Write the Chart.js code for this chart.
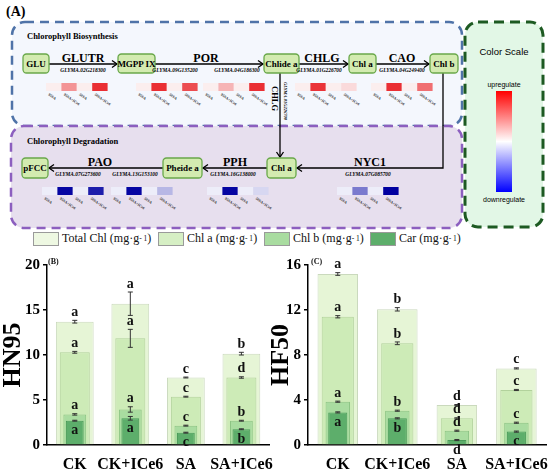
<!DOCTYPE html>
<html>
<head>
<meta charset="utf-8">
<script src="https://cdn.jsdelivr.net/npm/chart.js@4.4.0/dist/chart.umd.min.js"></script>
<style>
  body { margin: 0; background: #fff; }
  #wrap { position: relative; width: 550px; height: 469px; overflow: hidden; font-family: "Liberation Serif", serif; }
  #diagram { position: absolute; left: 0; top: 0; }
  .legend { position: absolute; top: 231px; left: 0; width: 550px; height: 16px; font-size: 12px; color: #111; }
  .legend .it { position: absolute; top: 0; display: flex; align-items: center; white-space: nowrap; }
  .legend .sw { width: 26px; height: 14px; border: 1px solid #9a9a9a; box-sizing: border-box; margin-right: 3px; }
  .legend sup { font-size: 7.5px; vertical-align: 5px; }
  .box { position: absolute; top: 248px; }
  .tag { position: absolute; font-weight: bold; font-size: 8px; color: #111; }
</style>
</head>
<body>
<div id="wrap">
  <svg id="diagram" width="550" height="232"></svg>
  <div class="legend">
    <div class="it" style="left:33px"><div class="sw" style="background:#eef8e2"></div>Total Chl (mg·g<sup> - 1</sup>)</div>
    <div class="it" style="left:158px"><div class="sw" style="background:#d6efc4"></div>Chl a (mg·g<sup> - 1</sup>)</div>
    <div class="it" style="left:264px"><div class="sw" style="background:#a9dca0"></div>Chl b (mg·g<sup> - 1</sup>)</div>
    <div class="it" style="left:370px"><div class="sw" style="background:#5dae6b"></div>Car (mg·g<sup> - 1</sup>)</div>
  </div>
  <div class="box" style="left:0"><canvas id="chartB" width="275" height="221"></canvas></div>
  <div class="box" style="left:268px"><canvas id="chartC" width="282" height="221"></canvas></div>
  <div class="tag" style="left:48px;top:257px">(B)</div>
  <div class="tag" style="left:311px;top:257px">(C)</div>
</div>
<script>
// ---- data ----
const categories = ['CK', 'CK+ICe6', 'SA', 'SA+ICe6'];
const heatLabels = ['95SA', '95SA+ICe6', '50SA', '50SA+ICe6'];

// relative expression (red = up, blue = down)
const glutr02G218300 = [0.03, 0.45, 0.03, 0.92];
const por09G135200 = [0.03, 0.92, 0.03, 0.78];
const por04G186300 = [0.03, 0.3, 0.03, 0.92];
const chlg01G226700 = [0.03, 0.9, 0.03, 0.12];
const cao04G249400 = [0.03, 0.92, 0.03, 0.62];
const pao07G273600 = [-0.03, -0.98, -0.03, -0.88];
const pao13G153100 = [-0.03, -0.98, -0.03, -0.25];
const pph16G138000 = [-0.03, -0.98, -0.03, -0.12];
const nyc07G085700 = [-0.03, -0.5, -0.03, -1];

// HN95
const hn95Total = [13.7, 15.7, 7.5, 10.15];
const hn95ChlA = [10.3, 11.85, 5.37, 7.5];
const hn95ChlB = [3.4, 3.95, 2.15, 2.7];
const hn95Car = [2.7, 2.97, 1.37, 1.75];
const hn95TotalErr = [0.15, 1.3, 0.05, 0.15];
const hn95ChlAErr = [0.1, 1.0, 0.05, 0.08];
const hn95ChlBErr = [0.08, 0.3, 0.05, 0.05];
const hn95CarErr = [0.05, 0.2, 0.05, 0.05];
const hn95Letters = [['a', 'a', 'c', 'b'], ['a', 'a', 'c', 'd'], ['a', 'a', 'c', 'b'], ['a', 'a', 'c', 'b']];

// HF50
const hf50Total = [15.2, 12.06, 3.55, 6.81];
const hf50ChlA = [11.4, 9.04, 2.37, 4.89];
const hf50ChlB = [3.85, 3.05, 1.27, 1.98];
const hf50Car = [2.9, 2.37, 0.44, 1.19];
const hf50TotalErr = [0.12, 0.15, 0.05, 0.05];
const hf50ChlAErr = [0.1, 0.12, 0.05, 0.05];
const hf50ChlBErr = [0.05, 0.05, 0.05, 0.05];
const hf50CarErr = [0.05, 0.05, 0.05, 0.05];
const hf50Letters = [['a', 'b', 'd', 'c'], ['a', 'b', 'd', 'c'], ['a', 'b', 'd', 'c'], ['a', 'b', 'd', 'c']];

// ---- pathway diagram (A) ----
const SERIF = '"Liberation Serif", serif';
let s = '';
s += `<text x="6" y="16" font-family='${SERIF}' font-weight="bold" font-size="14">(A)</text>`;
// panels
s += `<rect x="12" y="22" width="450" height="104" rx="13" fill="#f4f7fd" stroke="#4f73a8" stroke-width="2.5" stroke-dasharray="9 6"/>`;
s += `<rect x="11" y="126" width="451" height="102" rx="13" fill="#e7dfee" stroke="#8c5fbf" stroke-width="2.5" stroke-dasharray="9 6"/>`;
s += `<rect x="465" y="22" width="78" height="205" rx="13" fill="#e2f7e6" stroke="#1d5a22" stroke-width="3" stroke-dasharray="10 6"/>`;
s += `<text x="27" y="39" font-family='${SERIF}' font-weight="bold" font-size="8.5">Chlorophyll Biosynthesis</text>`;
s += `<text x="27" y="144" font-family='${SERIF}' font-weight="bold" font-size="8.5">Chlorophyll Degradation</text>`;

// color scale
s += `<defs><linearGradient id="cs" x1="0" y1="0" x2="0" y2="1"><stop offset="0" stop-color="#ff0000"/><stop offset="0.5" stop-color="#ffffff"/><stop offset="1" stop-color="#0000ff"/></linearGradient></defs>`;
s += `<text x="504" y="55" text-anchor="middle" font-family="Liberation Sans, sans-serif" font-size="9.5">Color Scale</text>`;
s += `<text x="504" y="87" text-anchor="middle" font-family="Liberation Sans, sans-serif" font-size="7">upregulate</text>`;
s += `<rect x="496" y="91" width="16" height="101" fill="url(#cs)"/>`;
s += `<text x="504" y="202" text-anchor="middle" font-family="Liberation Sans, sans-serif" font-size="7">downregulate</text>`;

// arrows
function arrow(pts, dir) {
  let d = 'M' + pts.map(p => p.join(',')).join(' L');
  s += `<path d="${d}" fill="none" stroke="#000" stroke-width="1.3"/>`;
  const [x, y] = pts[pts.length - 1];
  let h;
  if (dir === 'r') h = `M${x - 5},${y - 3.5} L${x},${y} L${x - 5},${y + 3.5}`;
  if (dir === 'l') h = `M${x + 5},${y - 3.5} L${x},${y} L${x + 5},${y + 3.5}`;
  if (dir === 'd') h = `M${x - 3.5},${y - 5} L${x},${y} L${x + 3.5},${y - 5}`;
  s += `<path d="${h}" fill="none" stroke="#000" stroke-width="1.3"/>`;
}
arrow([[49, 64], [117, 64]], 'r');
arrow([[155, 64], [263, 64]], 'r');
arrow([[299, 64], [348, 64]], 'r');
arrow([[376, 64], [429, 64]], 'r');
arrow([[280, 73], [280, 157]], 'd');
arrow([[443, 73], [443, 168], [297, 168]], 'l');
arrow([[267, 168], [203, 168]], 'l');
arrow([[163, 168], [49, 168]], 'l');

// nodes
function node(x1, x2, y1, y2, label) {
  s += `<rect x="${x1}" y="${y1}" width="${x2 - x1}" height="${y2 - y1}" rx="3.5" fill="#d3ebb0" stroke="#69a84a" stroke-width="1.3"/>`;
  s += `<text x="${(x1 + x2) / 2}" y="${(y1 + y2) / 2 + 3}" text-anchor="middle" font-family='${SERIF}' font-weight="bold" font-size="9">${label}</text>`;
}
node(23, 49, 54, 73, 'GLU');
node(118, 155, 54, 73, 'MGPP IX');
node(264, 299, 54, 73, 'Chlide a');
node(349, 376, 54, 73, 'Chl a');
node(430, 458, 54, 73, 'Chl b');
node(267, 296, 158, 178, 'Chl a');
node(163, 202, 158, 178, 'Pheide a');
node(22, 48, 158, 178, 'pFCC');

// enzyme and gene labels
function enzyme(x, y, t) {
  s += `<text x="${x}" y="${y}" text-anchor="middle" font-family='${SERIF}' font-weight="bold" font-size="12">${t}</text>`;
}
function gene(x, y, t) {
  s += `<text x="${x}" y="${y}" text-anchor="middle" font-family='${SERIF}' font-weight="bold" font-style="italic" font-size="5.4">${t}</text>`;
}
enzyme(83, 62, 'GLUTR'); gene(83, 72, 'GLYMA.02G218300');
enzyme(206, 62, 'POR'); gene(175, 72, 'GLYMA.09G135200'); gene(237, 72, 'GLYMA.04G186300');
enzyme(322, 62, 'CHLG'); gene(319, 72, 'GLYMA.01G226700');
enzyme(402, 62, 'CAO'); gene(402, 72, 'GLYMA.04G249400');
enzyme(100, 166, 'PAO'); gene(78, 176, 'GLYMA.07G273600'); gene(135, 176, 'GLYMA.13G153100');
enzyme(235, 166, 'PPH'); gene(233, 176, 'GLYMA.16G138000');
enzyme(370, 166, 'NYC1'); gene(368, 176, 'GLYMA.07G085700');
s += `<text transform="translate(272,86) rotate(90)" font-family='${SERIF}' font-weight="bold" font-size="8.5">CHLG</text>`;
s += `<text transform="translate(284,82) rotate(90)" font-family='${SERIF}' font-weight="bold" font-style="italic" font-size="4.5">GLYMA.01G226700</text>`;

// heatmaps
function heatColor(v) {
  const a = Math.abs(v);
  const from = v >= 0 ? [252, 244, 244] : [244, 244, 252];
  const to = v >= 0 ? [232, 30, 35] : [0, 0, 160];
  const c = from.map((f, k) => Math.round(f + (to[k] - f) * a));
  return `rgb(${c.join(',')})`;
}
const heatRows = [
  [glutr02G218300, 46, 83], [por09G135200, 136, 83], [por04G186300, 203, 83],
  [chlg01G226700, 295, 83], [cao04G249400, 371, 83],
  [pao07G273600, 42, 187], [pao13G153100, 111, 187], [pph16G138000, 207, 187], [nyc07G085700, 337, 187]
];
heatRows.forEach(([vals, x0, y0]) => {
  vals.forEach((v, k) => {
    const x = x0 + k * 15.4;
    s += `<rect x="${x}" y="${y0}" width="15.4" height="8" fill="${heatColor(v)}"/>`;
    s += `<text transform="translate(${x + 2},${y0 + 12}) rotate(35)" font-family='${SERIF}' font-weight="bold" font-size="3.8" fill="#333">${heatLabels[k]}</text>`;
  });
});
document.getElementById('diagram').innerHTML = s;

// ---- bar charts (B) and (C) ----
const barNotes = {
  id: 'barNotes',
  afterDatasetsDraw(chart, args, opts) {
    const ctx = chart.ctx;
    const y = chart.scales.y;
    ctx.save();
    chart.data.datasets.forEach((ds, i) => {
      chart.getDatasetMeta(i).data.forEach((bar, j) => {
        const v = ds.data[j];
        const e = opts.errors[i][j];
        const yt = y.getPixelForValue(v + e);
        const yb = y.getPixelForValue(v - e);
        ctx.strokeStyle = '#333';
        ctx.lineWidth = 1;
        ctx.beginPath();
        ctx.moveTo(bar.x, yt); ctx.lineTo(bar.x, yb);
        ctx.moveTo(bar.x - 2.5, yt); ctx.lineTo(bar.x + 2.5, yt);
        ctx.moveTo(bar.x - 2.5, yb); ctx.lineTo(bar.x + 2.5, yb);
        ctx.stroke();
        ctx.font = 'bold 14px "Liberation Serif"';
        ctx.fillStyle = '#111';
        ctx.textAlign = 'center';
        ctx.textBaseline = 'middle';
        const ly = i === 3 ? y.getPixelForValue(v) + 10 : yt - 8;
        ctx.fillText(opts.letters[i][j], bar.x, ly);
      });
    });
    ctx.restore();
  }
};

function makeChart(id, total, chlA, chlB, car, errors, letters, yMax, step, title, yWidth) {
  const font = { family: 'Liberation Serif', weight: 'bold' };
  new Chart(document.getElementById(id).getContext('2d'), {
    type: 'bar',
    data: {
      labels: categories,
      datasets: [
        { label: 'Total Chl', data: total, backgroundColor: '#e6f5d6', borderColor: '#cad9bd', borderWidth: 1, barPercentage: 0.68, categoryPercentage: 1, grouped: false, order: 4 },
        { label: 'Chl a', data: chlA, backgroundColor: '#cdebb7', borderColor: '#b2d29c', borderWidth: 1, barPercentage: 0.54, categoryPercentage: 1, grouped: false, order: 3 },
        { label: 'Chl b', data: chlB, backgroundColor: '#a9dca0', borderColor: '#8cc484', borderWidth: 1, barPercentage: 0.41, categoryPercentage: 1, grouped: false, order: 2 },
        { label: 'Car', data: car, backgroundColor: '#5dae6b', borderColor: '#4b9a59', borderWidth: 1, barPercentage: 0.32, categoryPercentage: 1, grouped: false, order: 1 }
      ]
    },
    options: {
      responsive: false,
      animation: false,
      devicePixelRatio: 1,
      layout: { padding: { top: 17, right: 3 } },
      plugins: {
        legend: { display: false },
        tooltip: { enabled: false },
        barNotes: { errors, letters }
      },
      scales: {
        x: {
          grid: { display: false },
          border: { color: '#000', width: 1.5 },
          ticks: { color: '#000', font: { ...font, size: 16 }, padding: 2, maxRotation: 0, autoSkip: false },
          afterFit(sc) { sc.height = 24; }
        },
        y: {
          min: 0, max: yMax,
          ticks: { stepSize: step, color: '#000', font: { ...font, size: 15 }, padding: 3 },
          grid: { drawOnChartArea: false, color: '#000', tickLength: 4, lineWidth: 1.5 },
          border: { color: '#000', width: 1.5 },
          title: { display: true, text: title, color: '#000', font: { ...font, size: 26, lineHeight: 1 }, padding: 0 },
          afterFit(sc) { sc.width = yWidth; }
        }
      }
    },
    plugins: [barNotes]
  });
}

makeChart('chartB', hn95Total, hn95ChlA, hn95ChlB, hn95Car,
  [hn95TotalErr, hn95ChlAErr, hn95ChlBErr, hn95CarErr], hn95Letters, 20, 5, 'HN95', 47);
makeChart('chartC', hf50Total, hf50ChlA, hf50ChlB, hf50Car,
  [hf50TotalErr, hf50ChlAErr, hf50ChlBErr, hf50CarErr], hf50Letters, 16, 4, 'HF50', 40);
</script>
</body>
</html>
